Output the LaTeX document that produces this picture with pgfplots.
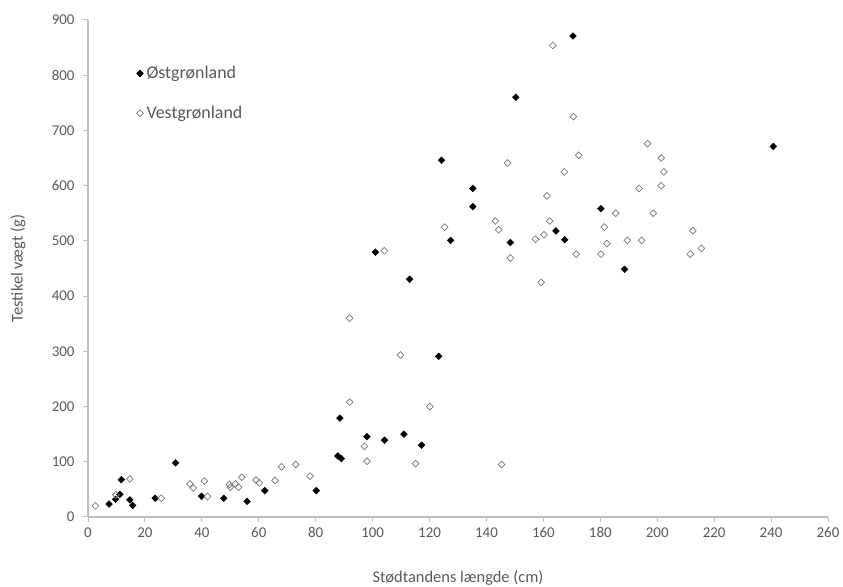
\documentclass[border=0pt]{standalone}
\usepackage{fontspec}
\setmainfont{Carlito}
\usepackage{pgfplots}
\pgfplotsset{compat=1.18}

\definecolor{axisgray}{HTML}{BFBFBF}
\definecolor{labelgray}{HTML}{595959}
\definecolor{markgray}{HTML}{767676}

\begin{document}
\begin{tikzpicture}[x=1bp,y=1bp]
% fixed page frame around the plot area
\path[use as bounding box] (-88,-70) rectangle (755,517);
\begin{axis}[
  at={(0,0)}, anchor=origin,
  scale only axis,
  width=740bp, height=497bp,
  xmin=0, xmax=260, ymin=0, ymax=900,
  xtick={0,20,...,260}, ytick={0,100,...,900},
  axis lines*=left,
  axis line style={axisgray, line width=1.6pt},
  tick style={axisgray, line width=1pt},
  tick align=outside, major tick length=5bp,
  every tick label/.append style={font=\fontsize{15}{17}\selectfont, text=labelgray},
  /pgf/number format/assume math mode=true,
  xticklabel style={yshift=-2bp},
  yticklabel style={xshift=-5bp},
  xlabel={Stødtandens længde (cm)},
  ylabel={Testikel vægt (g)},
  label style={font=\fontsize{16.5}{19}\selectfont, text=labelgray},
  xlabel style={at={(axis description cs:0.5,0)}, anchor=center, yshift=-61bp},
  ylabel style={at={(axis description cs:0,0.5)}, anchor=center, yshift=70bp},
  legend style={draw=none, fill=none, at={(axis cs:16.8,819)}, anchor=north west,
    font=\fontsize{18}{21}\selectfont, text=labelgray, row sep=23bp,
    inner sep=0pt, nodes={inner sep=1.5pt}},
  legend cell align=left,
  legend image code/.code={%
    \path[draw=none, fill=none] (0bp,0bp) (9bp,0bp);
    \draw[#1] plot coordinates {(4bp,0bp)};},
  clip=false,
]
% East Greenland
\addplot[only marks, mark=square*, mark size=2.4bp,
  mark options={rotate=45, fill=black, draw=black}] coordinates {
(7.4,23.5) (9.7,32) (11.2,41) (11.7,67.6) (14.7,31) (15.7,21)
(23.6,34) (30.8,98) (39.9,37.5) (47.7,34) (55.9,28.4) (62.1,47.7)
(80.2,47.7) (87.8,110.5) (89,105.7) (88.5,179) (98,145.5) (104.2,139)
(111,150) (117.2,130) (101,479.5) (113,430.6) (123.2,291) (124.2,646)
(127.4,501) (135.2,595) (135.2,562) (148.4,497) (150.3,760) (164.4,518)
(167.5,502) (170.4,871) (180.2,558.5) (188.5,448.5) (240.8,671)
};
\addlegendentry{Østgrønland}
% West Greenland
\addplot[only marks, mark=square, mark size=2.4bp,
  mark options={rotate=45, fill=white, draw=markgray, line width=0.7pt}] coordinates {
(2.6,20) (9.8,40) (14.7,69) (25.7,34) (35.8,60) (37,52.5) (40.9,65)
(42,37) (49.7,59) (50,54) (51.8,60) (52.9,54) (54,72) (59,67) (60.2,62)
(65.7,66) (68,91) (73,95) (78,74) (91.9,208) (91.9,360) (97.1,128)
(98,101) (104.1,482) (109.8,293.5) (115.1,96.6) (120.1,200) (125.3,525)
(143.1,536) (144.3,520) (145.3,95) (147.4,641) (148.4,469) (157.2,503)
(159.2,425) (160.2,511) (161.2,581.5) (162.2,536) (163.3,854) (167.4,625)
(170.5,725) (171.5,476) (172.4,655) (180.2,476) (181.4,525) (182.3,495)
(185.4,550) (189.5,501) (193.6,595) (194.5,501) (196.6,676) (198.6,550)
(201.4,650) (201.4,600) (202.3,625) (211.6,476) (212.5,518.6) (215.5,486.6)
};
\addlegendentry{Vestgrønland}
\end{axis}
\end{tikzpicture}
\end{document}
